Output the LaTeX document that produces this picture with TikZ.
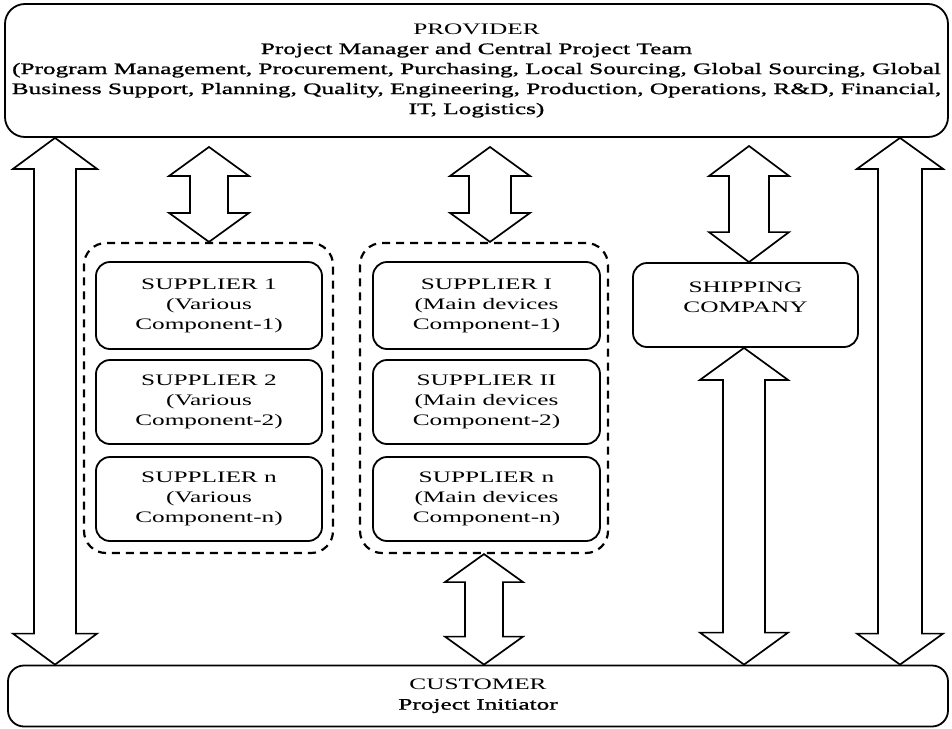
\documentclass[tikz,border=0pt]{standalone}
\usepackage{fontspec}
\setmainfont{Liberation Serif}[FakeStretch=1.58]
\newfontfamily\darkfont{Liberation Serif}[FakeStretch=1.58, FakeBold=1.2]
\usetikzlibrary{calc}

\tikzset{
    box/.style={draw, line width=1.8pt, rounded corners=14pt, align=center, inner sep=0pt},
    group/.style={draw, dash pattern=on 8pt off 6pt, line width=2.2pt, rounded corners=22pt, inner sep=0pt},
    blk/.style={draw, line width=1.7pt, fill=white, line join=miter},
}

% block double arrow: top point, bottom point, head half, shaft half, head length
\newcommand{\dblarrow}[5]{%
    \draw[blk] let \p1=(#1), \p2=(#2) in
        (\x1,\y1) -- (\x1+#3,\y1-#5) -- (\x1+#4,\y1-#5) -- (\x1+#4,\y2+#5)
        -- (\x1+#3,\y2+#5) -- (\x1,\y2) -- (\x1-#3,\y2+#5) -- (\x1-#4,\y2+#5)
        -- (\x1-#4,\y1-#5) -- (\x1-#3,\y1-#5) -- cycle;}

\begin{document}
\begin{tikzpicture}[x=1pt, y=-1pt, font=\fontsize{16pt}{20pt}\selectfont]
    \useasboundingbox (0,0) rectangle (952,728);

    % Provider and customer
    \node[box, rounded corners=20pt, minimum width=943pt, minimum height=133pt] (prov) at (476.5,70.5)
        {PROVIDER\\ {\darkfont Project Manager and Central Project Team}\\
         {\darkfont (Program Management, Procurement, Purchasing, Local Sourcing, Global Sourcing, Global}\\
         {\darkfont Business Support, Planning, Quality, Engineering, Production, Operations, R\&D, Financial,}\\
         {\darkfont IT, Logistics)}};
    \node[box, rounded corners=16pt, minimum width=940pt, minimum height=61pt] (cust) at (478,696)
        {CUSTOMER\\ {\darkfont Project Initiator}};

    % Supplier groups
    \node[group, minimum width=249pt, minimum height=310pt] (g1) at (208.5,398) {};
    \node[group, minimum width=248pt, minimum height=310pt] (g2) at (484,398) {};

    \node[box, minimum width=226pt, minimum height=87pt] (s11) at (209,305.5)
        {SUPPLIER 1\\ (Various\\ Component-1)};
    \node[box, minimum width=226pt, minimum height=84pt] (s12) at (209,402)
        {SUPPLIER 2\\ (Various\\ Component-2)};
    \node[box, minimum width=226pt, minimum height=84pt] (s13) at (209,499)
        {SUPPLIER n\\ (Various\\ Component-n)};

    \node[box, minimum width=227pt, minimum height=87pt] (s21) at (486.5,305.5)
        {SUPPLIER I\\ (Main devices\\ Component-1)};
    \node[box, minimum width=227pt, minimum height=84pt] (s22) at (486.5,402)
        {SUPPLIER II\\ (Main devices\\ Component-2)};
    \node[box, minimum width=227pt, minimum height=84pt] (s23) at (486.5,499)
        {SUPPLIER n\\ (Main devices\\ Component-n)};

    % Shipping
    \node[box, minimum width=225pt, minimum height=84pt] (ship) at (745.5,305)
        {SHIPPING\\ COMPANY\\[-5pt]};

    % Arrows
    \coordinate (bigL) at (55,0);
    \coordinate (bigR) at (900,0);
    \coordinate (t1) at (209,147);
    \coordinate (t2) at (490,147);
    \coordinate (t3) at (749,146);
    \coordinate (b2) at (484,0);
    \coordinate (b3) at (744,0);

    \dblarrow{bigL |- prov.south}{bigL |- cust.north}{42pt}{21pt}{31pt}
    \dblarrow{bigR |- prov.south}{bigR |- cust.north}{43pt}{22pt}{31pt}
    \dblarrow{t1}{t1 |- g1.north}{40pt}{19pt}{29pt}
    \dblarrow{t2}{t2 |- g2.north}{40pt}{21pt}{29pt}
    \dblarrow{t3}{t3 |- ship.north}{40pt}{20pt}{30pt}
    \dblarrow{b3 |- ship.south}{b3 |- cust.north}{44pt}{21pt}{32pt}
    \dblarrow{b2 |- g2.south}{b2 |- cust.north}{39pt}{19pt}{28pt}
\end{tikzpicture}
\end{document}
